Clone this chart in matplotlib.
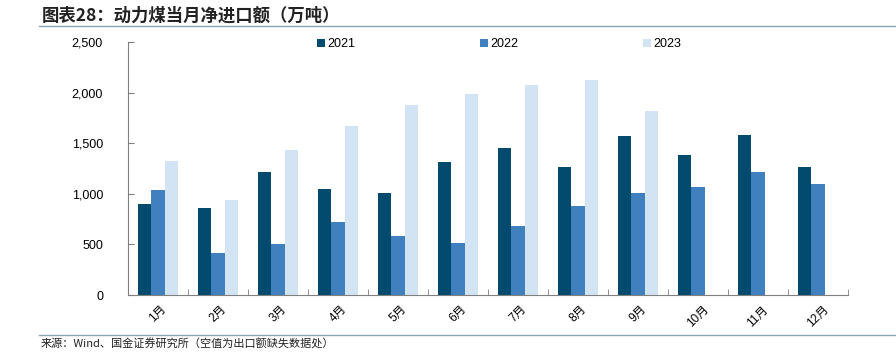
import numpy as np
import matplotlib
matplotlib.use('Agg')
import matplotlib.pyplot as plt
from matplotlib.ticker import FuncFormatter, MultipleLocator

plt.rcParams['font.family'] = ['Liberation Sans', 'Noto Sans CJK SC', 'DejaVu Sans']

months = ['1月', '2月', '3月', '4月', '5月', '6月', '7月', '8月', '9月', '10月', '11月', '12月']
years = ['2021', '2022', '2023']
v2021 = [902, 860, 1212, 1047, 1011, 1311, 1456, 1268, 1574, 1386, 1578, 1268]
v2022 = [1040, 412, 504, 721, 586, 511, 679, 883, 1008, 1070, 1219, 1100]
v2023 = [1321, 942, 1433, 1670, 1877, 1983, 2075, 2128, 1815, np.nan, np.nan, np.nan]
colors = ['#024a6e', '#4180bf', '#d2e3f3']

fig = plt.figure(figsize=(8.96, 3.52), dpi=100)
ax = fig.add_axes([0.1429, 0.1619, 0.8036, 0.7188])

x = np.arange(len(months))
w = 0.22
for i, (vals, c, lab) in enumerate(zip([v2021, v2022, v2023], colors, years)):
    ax.bar(x + (i - 1) * w, vals, width=w, color=c, label=lab, zorder=2)

ax.set_xlim(-0.5, len(months) - 0.5)
ax.set_ylim(0, 2500)
ax.yaxis.set_major_locator(MultipleLocator(500))
ax.yaxis.set_major_formatter(FuncFormatter(lambda v, p: f'{int(v):,}'))
ax.set_xticks(x)
ax.set_xticklabels(months, rotation=45, family=['Liberation Sans', 'Noto Sans CJK SC'])
ax.set_xticks(np.arange(-0.5, len(months)), minor=True)
ax.tick_params(axis='x', which='major', length=0, labelsize=8.5, pad=6)
ax.tick_params(axis='x', which='minor', direction='in', length=4, color='#808080')
ax.tick_params(axis='y', direction='in', length=4, color='#808080', labelsize=9, pad=18)

for s in ['top', 'right']:
    ax.spines[s].set_visible(False)
for s in ['left', 'bottom']:
    ax.spines[s].set_color('#808080')

fig.legend(loc='center', bbox_to_anchor=(0.557, 0.875), ncol=3, frameon=False,
           fontsize=9, handlelength=0.6, handleheight=0.6, handletextpad=0.2,
           columnspacing=10)

fig.text(0.047, 0.955, '图表28：动力煤当月净进口额（万吨）', fontsize=12.5, fontweight='bold',
         style='italic', family=['Noto Sans CJK SC'], va='center', color='#222222')
fig.add_artist(plt.Line2D([0.043, 1.0], [0.925, 0.925], color='#8ea5b5', lw=1))
fig.add_artist(plt.Line2D([0.043, 1.0], [0.047, 0.047], color='#8ea5b5', lw=1))
fig.text(0.045, 0.022, '来源：Wind、国金证券研究所（空值为出口额缺失数据处）', fontsize=8,
         family=['Noto Sans CJK SC'], va='center', color='#222222')

fig.savefig('out.png', dpi=100)
